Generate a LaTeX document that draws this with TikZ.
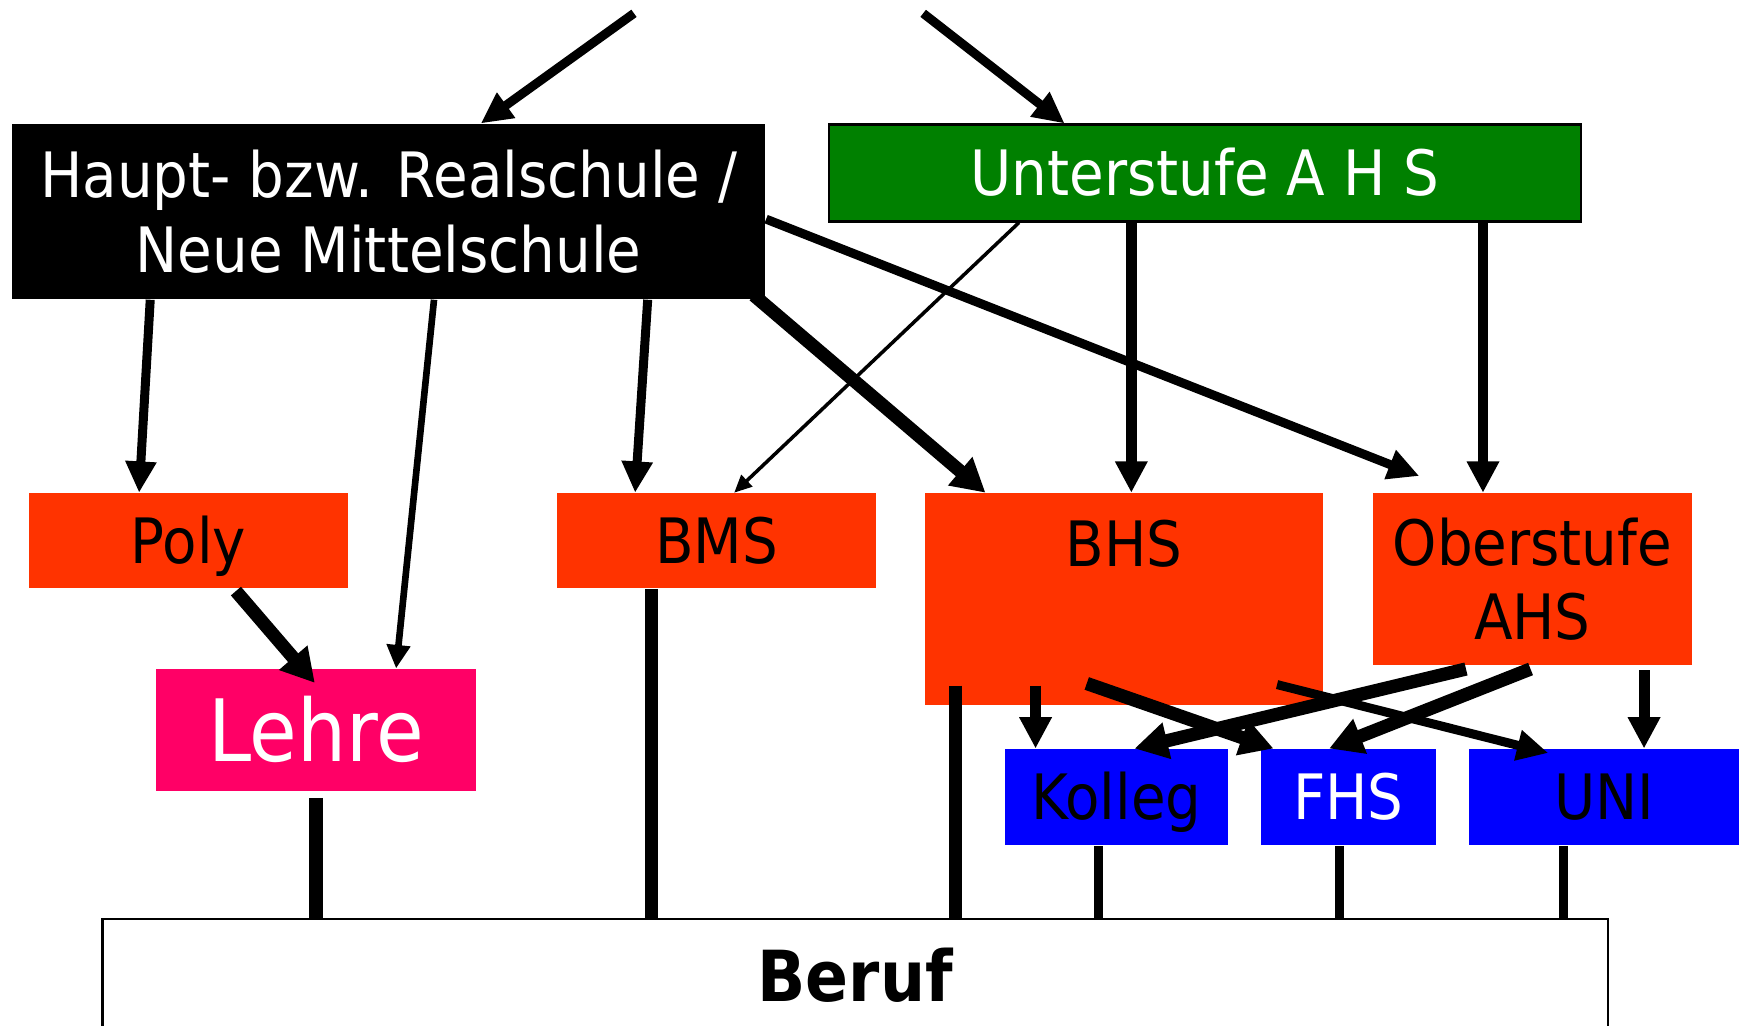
\documentclass[tikz,border=0pt]{standalone}
\usepackage{fontspec}
\usepackage{tikz}
\usepackage{xcolor}
\usetikzlibrary{arrows.meta, positioning, calc}

\newfontfamily\schrift[FakeStretch=0.9]{DejaVu Sans}

\definecolor{hsgruen}{RGB}{0,128,0}
\definecolor{hsrot}{RGB}{255,51,0}
\definecolor{hsmagenta}{RGB}{255,0,102}
\definecolor{hsblau}{RGB}{0,0,255}

\begin{document}
\begin{tikzpicture}[x=0.01cm, y=-0.01cm,
    schulbox/.style={rectangle, inner sep=0pt, anchor=north west, align=center,
        font=\schrift\fontsize{16}{19}\selectfont},
    einzeilig/.style={text height=0.41cm, text depth=0pt},
    pfeil/.style={line width=2.3pt, -{Triangle[length=8pt,width=7.5pt]}},
    mittelpfeil/.style={line width=2.8pt, -{Triangle[length=8pt,width=7.8pt]}},
    dickpfeil/.style={line width=3.4pt, -{Triangle[length=8.5pt,width=9pt]}},
    duennpfeil/.style={line width=1.7pt, -{Triangle[length=6pt,width=5.8pt]}},
    hauchpfeil/.style={line width=0.9pt, -{Triangle[length=4.5pt,width=4pt]}},
    strich/.style={line width=3.4pt},
    duennstrich/.style={line width=2.3pt}]
\useasboundingbox (0,0) rectangle (1568,922);

% Schulen
\node[schulbox, fill=black, text=white, minimum width=6.77cm, minimum height=1.57cm]
    (haupt) at (10,111) {Haupt- bzw. Realschule /\\Neue Mittelschule};
\node[schulbox, einzeilig, fill=hsgruen, draw=black, line width=0.6pt, text=white,
    minimum width=6.76cm, minimum height=0.87cm] (unter) at (744,111) {Unterstufe A H S};
\node[schulbox, einzeilig, fill=hsrot, minimum width=2.87cm, minimum height=0.85cm]
    (poly) at (25,443) {Poly};
\node[schulbox, einzeilig, fill=hsrot, minimum width=2.87cm, minimum height=0.85cm]
    (bms) at (500,443) {BMS};
\node[schulbox, fill=hsrot, minimum width=3.58cm, text height=0.66cm, text depth=1.24cm]
    (bhs) at (831,443) {BHS};
\node[schulbox, fill=hsrot, minimum width=2.86cm, minimum height=1.54cm]
    (ober) at (1234,443) {Oberstufe\\AHS};
\node[schulbox, fill=hsmagenta, text=white, minimum width=2.87cm, minimum height=1.09cm,
    font=\schrift\fontsize{22}{24}\selectfont, text height=0.56cm, text depth=0pt]
    (lehre) at (140,601) {Lehre};
\node[schulbox, einzeilig, fill=hsblau, minimum width=2.0cm, minimum height=0.86cm]
    (kolleg) at (903,673) {Kolleg};
\node[schulbox, einzeilig, fill=hsblau, text=white, minimum width=1.57cm, minimum height=0.86cm]
    (fhs) at (1133,673) {FHS};
\node[schulbox, einzeilig, fill=hsblau, minimum width=2.43cm, minimum height=0.86cm]
    (uni) at (1320,673) {UNI};
\node[schulbox, draw=black, line width=0.6pt, fill=white, minimum width=13.53cm,
    minimum height=1.02cm, font=\schrift\bfseries\fontsize{18}{20}\selectfont,
    text height=0.46cm, text depth=0pt] (beruf) at (91,825) {Beruf};

% Zugaenge von oben
\coordinate (ein1) at (570,12);
\coordinate (ein2) at (830,12);
\draw[pfeil] (ein1) -- ([xshift=4.22cm]haupt.north west);
\draw[pfeil] (ein2) -- ([xshift=2.13cm]unter.north west);

% Haupt- bzw. Realschule
\draw[pfeil] ([xshift=1.25cm]haupt.south west) -- ([xshift=1.0cm]poly.north west);
\draw[duennpfeil] ([xshift=3.8cm]haupt.south west) -- ([xshift=2.16cm]lehre.north west);
\draw[pfeil] ([xshift=5.72cm]haupt.south west) -- ([xshift=0.71cm]bms.north west);
\draw[dickpfeil] ([xshift=-0.11cm,yshift=0.04cm]haupt.south east) -- ([xshift=0.55cm]bhs.north west);
\draw[pfeil] ([yshift=-0.86cm]haupt.north east) -- ([xshift=0.42cm,yshift=0.15cm]ober.north west);

% Unterstufe
\draw[hauchpfeil] ([xshift=1.72cm]unter.south west) -- ([xshift=1.6cm]bms.north west);
\draw[mittelpfeil] ([xshift=2.73cm]unter.south west) -- ([xshift=2.73cm]unter.south west |- bhs.north);
\draw[mittelpfeil] ([xshift=5.89cm]unter.south west) -- ([xshift=5.89cm]unter.south west |- ober.north);

% Poly zur Lehre
\draw[dickpfeil] ([xshift=1.87cm,yshift=-0.02cm]poly.south west) -- ([xshift=1.43cm,yshift=-0.13cm]lehre.north west);

% nach der Matura
\draw[mittelpfeil] ([xshift=1.0cm,yshift=0.18cm]bhs.south west) -- ([xshift=1.0cm]bhs.south west |- kolleg.north);
\draw[dickpfeil] ([xshift=1.46cm,yshift=0.2cm]bhs.south west) -- ([xshift=0.12cm]fhs.north west);
\draw[pfeil] ([xshift=3.17cm,yshift=0.19cm]bhs.south west) -- ([xshift=0.72cm,yshift=-0.04cm]uni.north west);
\draw[dickpfeil] ([xshift=0.84cm,yshift=-0.03cm]ober.south west) -- ([xshift=1.17cm]kolleg.north west);
\draw[dickpfeil] ([xshift=1.42cm,yshift=-0.03cm]ober.south west) -- ([xshift=0.62cm]fhs.north west);
\draw[mittelpfeil] ([xshift=2.44cm,yshift=-0.04cm]ober.south west) -- ([xshift=2.44cm]ober.south west |- uni.north);

% in den Beruf
\draw[strich] ([xshift=1.44cm,yshift=-0.06cm]lehre.south west) -- ([xshift=1.44cm]lehre.south west |- beruf.north);
\draw[strich] ([xshift=0.86cm]bms.south west) -- ([xshift=0.86cm]bms.south west |- beruf.north);
\draw[strich] ([xshift=0.28cm,yshift=0.18cm]bhs.south west) -- ([xshift=0.28cm]bhs.south west |- beruf.north);
\draw[duennstrich] ([xshift=0.85cm]kolleg.south west) -- ([xshift=0.85cm]kolleg.south west |- beruf.north);
\draw[duennstrich] ([xshift=0.71cm]fhs.south west) -- ([xshift=0.71cm]fhs.south west |- beruf.north);
\draw[duennstrich] ([xshift=0.86cm]uni.south west) -- ([xshift=0.86cm]uni.south west |- beruf.north);
\end{tikzpicture}
\end{document}
